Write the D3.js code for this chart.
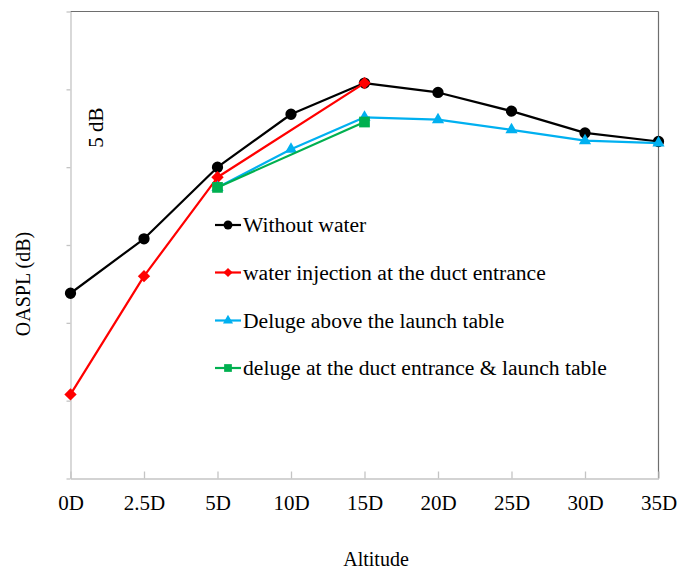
<!DOCTYPE html>
<html>
<head>
<meta charset="utf-8">
<script src="https://cdn.jsdelivr.net/npm/d3@7"></script>
<style>
  html, body { margin: 0; padding: 0; background: #fff; }
  svg { display: block; font-family: "Liberation Serif", "Times New Roman", serif; }
</style>
</head>
<body>
<svg id="chart" width="679" height="569"></svg>
<script>
// Measurement stations along the altitude axis
const categories = ["0D", "2.5D", "5D", "10D", "15D", "20D", "25D", "30D", "35D"];

// OASPL in dB (relative scale, 5 dB per gridline step); null = not measured
const withoutWater   = [11.9, 15.4, 20.0, 23.4, 25.4, 24.8, 23.6, 22.2, 21.65];
const ductInjection  = [5.4, 13.0, 19.35, null, 25.4, null, null, null, null];
const delugeTable    = [null, null, 18.7, 21.15, 23.2, 23.05, 22.4, 21.7, 21.55];
const delugeCombined = [null, null, 18.7, null, 22.9, null, null, null, null];

const seriesNames = [
  "Without water",
  "water injection at the duct entrance",
  "Deluge above the launch table",
  "deluge at the duct entrance & launch table"
];

const yTicks = [0, 5, 10, 15, 20, 25, 30];

const series = [
  { name: seriesNames[0], values: withoutWater,   color: "#000000", symbol: d3.symbolCircle,   size: 100, lsize: 62, rot: 0 },
  { name: seriesNames[1], values: ductInjection,  color: "#ff0000", symbol: d3.symbolSquare,   size: 76,  lsize: 42, rot: 45 },
  { name: seriesNames[2], values: delugeTable,    color: "#00b0f0", symbol: d3.symbolTriangle, size: 64,  lsize: 44, rot: 0 },
  { name: seriesNames[3], values: delugeCombined, color: "#00b050", symbol: d3.symbolSquare,   size: 115, lsize: 60, rot: 0 }
];

const svg = d3.select("#chart");
const plotLeft = 70.5, plotRight = 658.5, plotTop = 11.5, plotBottom = 478.5;

const x = d3.scalePoint().domain(categories).range([plotLeft, plotRight]).padding(0);
const y = d3.scaleLinear().domain([0, 30]).range([plotBottom, plotTop]);

// Frame: top and right borders
svg.append("line").attr("x1", plotLeft).attr("x2", plotRight).attr("y1", plotTop).attr("y2", plotTop)
  .attr("stroke", "#6e6e6e").attr("stroke-width", 1.2);
svg.append("line").attr("x1", plotRight).attr("x2", plotRight).attr("y1", plotTop).attr("y2", plotBottom)
  .attr("stroke", "#6e6e6e").attr("stroke-width", 1.2);

// Y axis: unlabeled ticks
const yAxis = svg.append("g").attr("transform", `translate(${plotLeft},0)`)
  .call(d3.axisLeft(y).tickValues(yTicks).tickSize(4).tickSizeOuter(0).tickFormat(""));
yAxis.select(".domain").attr("stroke", "#c4c4c4").attr("stroke-width", 1.3);
yAxis.selectAll(".tick line").attr("stroke", "#c4c4c4").attr("stroke-width", 1.3);

// X axis: ticks pointing inward
const xAxis = svg.append("g").attr("transform", `translate(0,${plotBottom})`)
  .call(d3.axisBottom(x).tickSize(-7).tickSizeOuter(0).tickPadding(16.5));
xAxis.select(".domain").attr("stroke", "#c4c4c4").attr("stroke-width", 1.3);
xAxis.selectAll(".tick line").attr("stroke", "#c4c4c4").attr("stroke-width", 1.3);
xAxis.selectAll(".tick text")
  .attr("fill", "#000").attr("font-size", 21)
  .attr("font-family", "Liberation Serif, Times New Roman, serif");

// Axis titles
svg.append("text").attr("x", 376).attr("y", 566).attr("text-anchor", "middle")
  .attr("font-size", 20).text("Altitude");
svg.append("text").attr("transform", "translate(29.5,284) rotate(-90)")
  .attr("text-anchor", "middle").attr("font-size", 20).text("OASPL (dB)");

// Scale annotation
svg.append("text").attr("transform", "translate(102.5,127.5) rotate(-90)")
  .attr("text-anchor", "middle").attr("font-size", 21).text("5 dB");

// Series lines and markers
const line = d3.line().x(d => x(d.cat)).y(d => y(d.v));

series.forEach(s => {
  const pts = categories.map((c, i) => ({ cat: c, v: s.values[i] })).filter(d => d.v != null);
  const g = svg.append("g");
  g.append("path").datum(pts).attr("d", line)
    .attr("fill", "none").attr("stroke", s.color).attr("stroke-width", 2.2)
    .attr("stroke-linejoin", "round");
  g.selectAll("path.mk").data(pts).join("path").attr("class", "mk")
    .attr("d", d3.symbol().type(s.symbol).size(s.size))
    .attr("transform", d => `translate(${x(d.cat)},${y(d.v)}) rotate(${s.rot})`)
    .attr("fill", s.color);
});

// Legend
const legendX0 = 215, legendX1 = 241, legendRows = [225, 272.5, 320.5, 368];
series.forEach((s, i) => {
  const ly = legendRows[i];
  const g = svg.append("g");
  g.append("line").attr("x1", legendX0).attr("x2", legendX1).attr("y1", ly).attr("y2", ly)
    .attr("stroke", s.color).attr("stroke-width", 2.2);
  g.append("path")
    .attr("d", d3.symbol().type(s.symbol).size(s.lsize))
    .attr("transform", `translate(${(legendX0 + legendX1) / 2},${ly}) rotate(${s.rot})`)
    .attr("fill", s.color);
  g.append("text").attr("x", 243).attr("y", ly + 7.2)
    .attr("font-size", 21.6).attr("fill", "#000").text(s.name);
});
</script>
</body>
</html>
